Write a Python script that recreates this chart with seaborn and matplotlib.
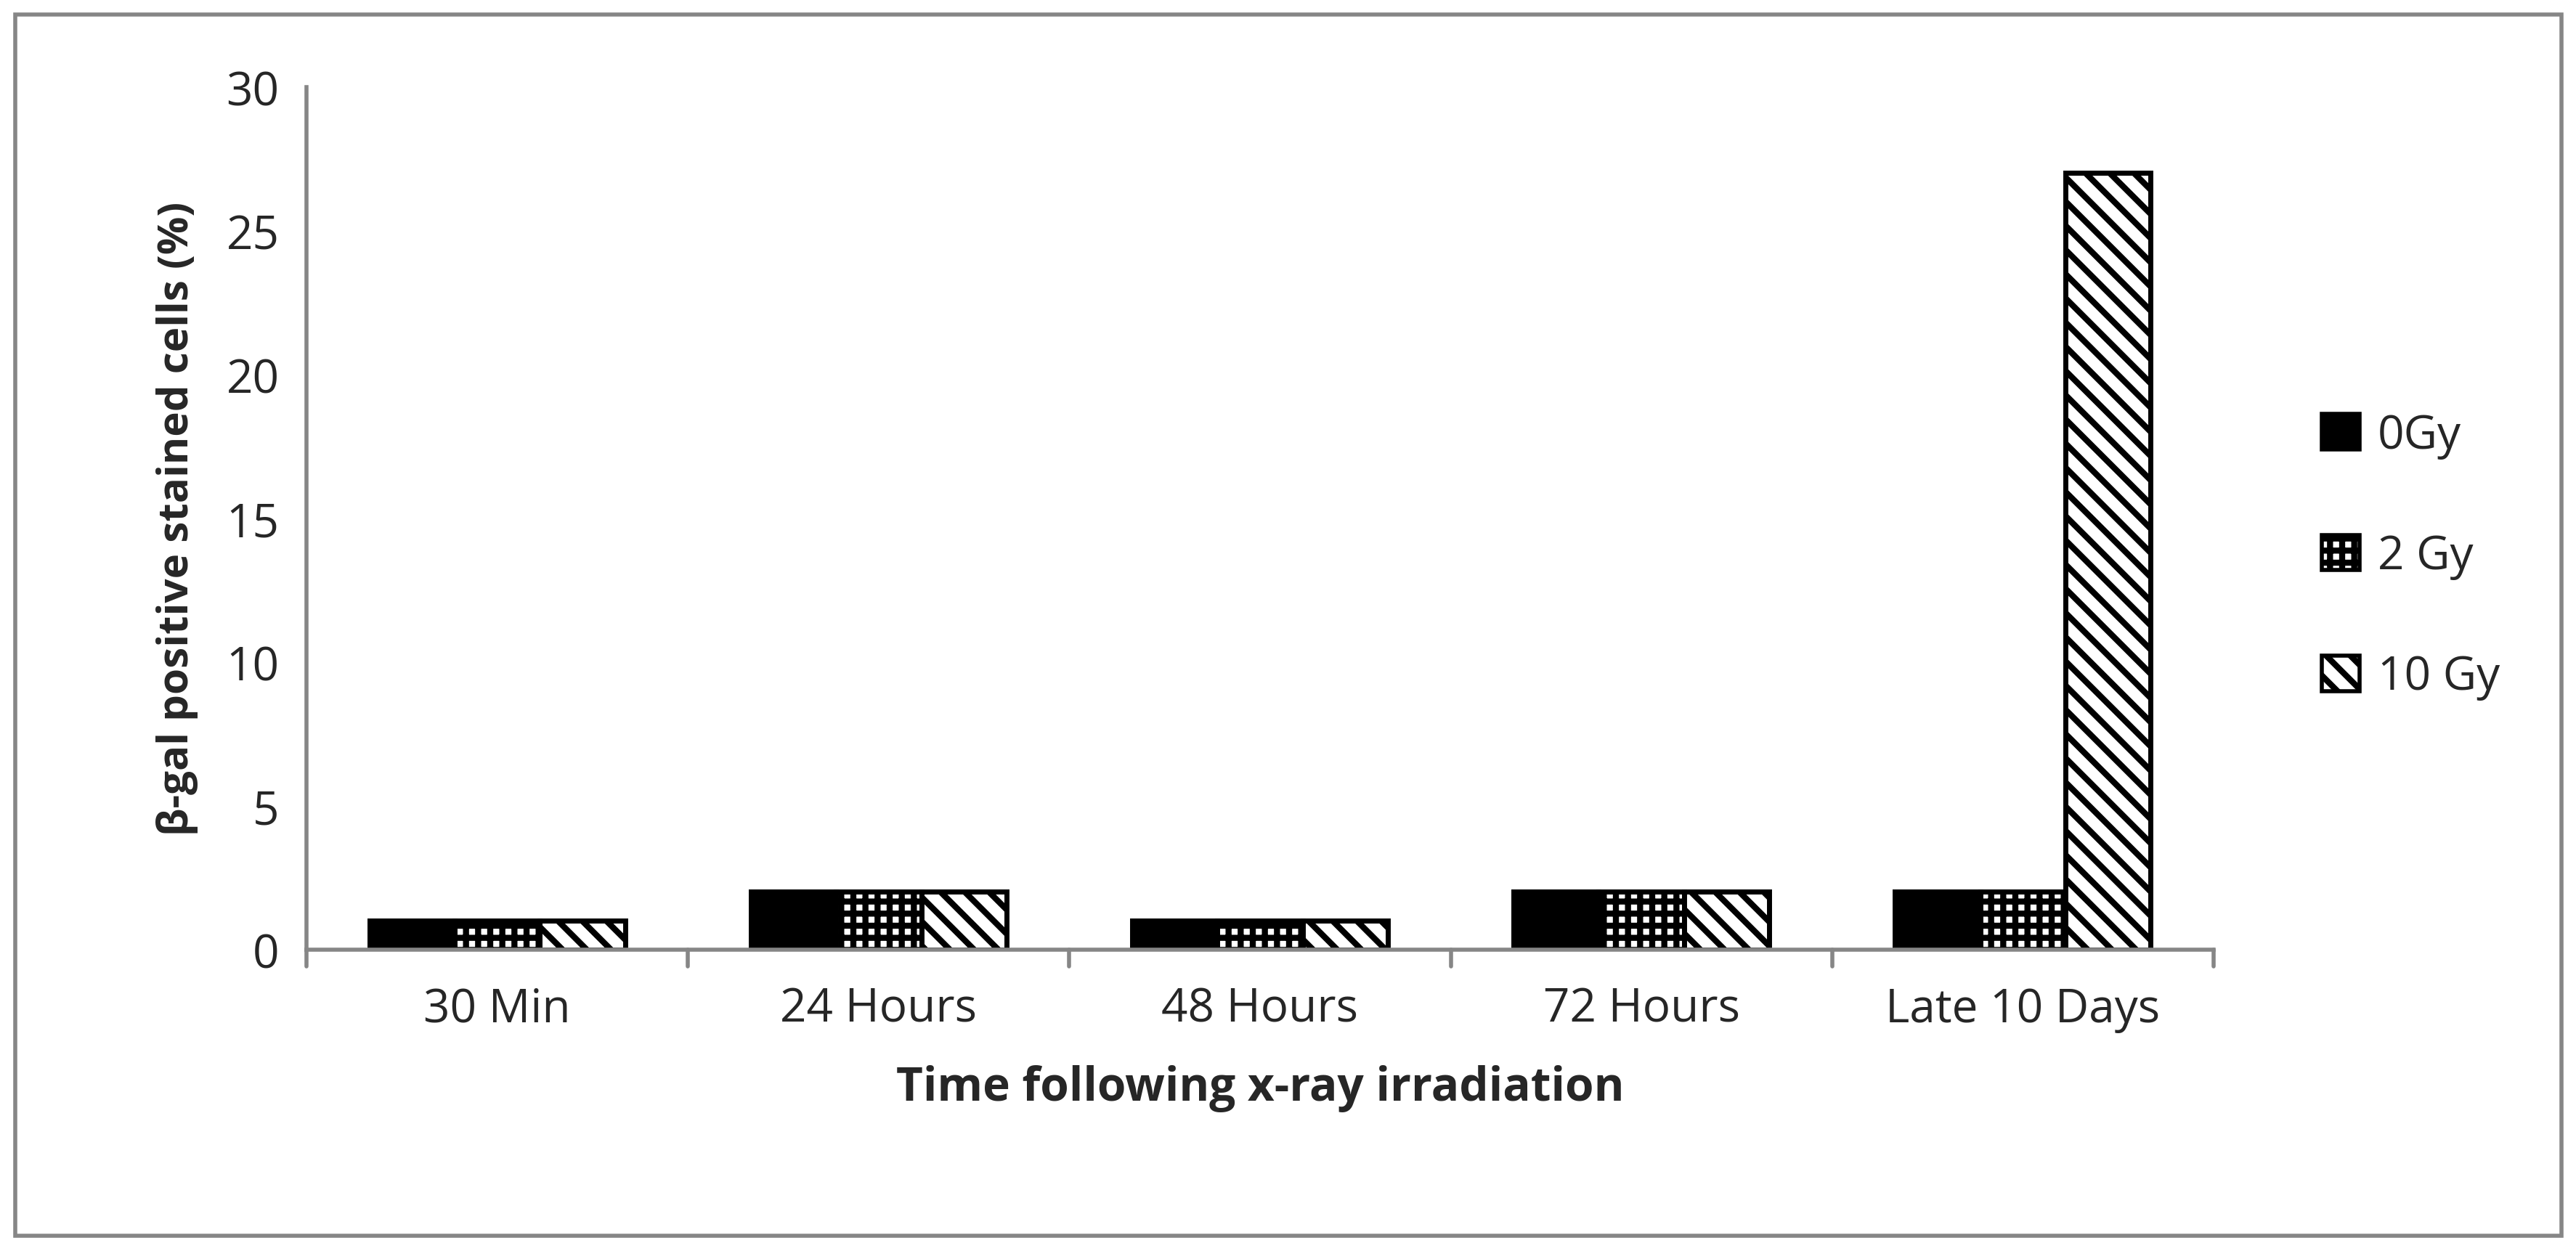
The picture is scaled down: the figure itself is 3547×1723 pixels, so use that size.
"""
beta-gal staining after x-ray irradiation, grouped bar chart.
"""

import matplotlib.pyplot as plt
import matplotlib.patches as mpatches
import pandas as pd
import seaborn as sns

sns.set_style("white")
plt.rcParams["font.family"] = ["Open Sans", "DejaVu Sans"]
plt.rcParams["hatch.linewidth"] = 3.0

# Data
time_points = ["30 Min", "24 Hours", "48 Hours", "72 Hours", "Late 10 Days"]
doses = ["0Gy", "2 Gy", "10 Gy"]
dose_0 = [1, 2, 1, 2, 2]
dose_2 = [1, 2, 1, 2, 2]
dose_10 = [1, 2, 1, 2, 27]

df = pd.DataFrame({
    "time": time_points * 3,
    "dose": [doses[0]] * 5 + [doses[1]] * 5 + [doses[2]] * 5,
    "value": dose_0 + dose_2 + dose_10,
})

hatches = {"0Gy": "", "2 Gy": "++", "10 Gy": "\\\\"}
faces = {"0Gy": "black", "2 Gy": "white", "10 Gy": "white"}

fig = plt.figure(figsize=(17.74, 8.62), dpi=200)
ax = fig.add_axes([0.119, 0.241, 0.74, 0.689])

sns.barplot(data=df, x="time", y="value", hue="dose", ax=ax,
            order=time_points, hue_order=doses, width=0.67,
            palette=["black", "white", "white"], legend=False,
            edgecolor="black", linewidth=2.5)

for i, dose in enumerate(doses):
    for patch in ax.containers[i]:
        patch.set_hatch(hatches[dose])
        patch.set_facecolor(faces[dose])

ax.set_ylim(0, 30)
ax.set_yticks(range(0, 31, 5))
ax.set_xlim(-0.5, 4.5)
ax.tick_params(axis="both", labelsize=23, length=0)
ax.tick_params(axis="x", pad=18)
for s in ["top", "right"]:
    ax.spines[s].set_visible(False)
for s in ["left", "bottom"]:
    ax.spines[s].set_color("#868686")
    ax.spines[s].set_linewidth(2)

# tick marks like the original
ax.tick_params(axis="y", length=10, width=2, color="#868686", direction="out")
for xb in [-0.5, 0.5, 1.5, 2.5, 3.5, 4.5]:
    ax.plot([xb, xb], [0, -0.6], color="#868686", lw=2, clip_on=False)

ax.set_xlabel("Time following x-ray irradiation", fontsize=23, fontweight="bold", labelpad=16)
ax.set_ylabel("β-gal positive stained cells (%)", fontsize=21, fontweight="bold", labelpad=14)

handles = [mpatches.Patch(facecolor=faces[d], edgecolor="black", hatch=hatches[d], lw=2, label=d)
           for d in doses]
fig.legend(handles=handles, loc="center left", bbox_to_anchor=(0.885, 0.555), frameon=False,
           fontsize=23, handlelength=0.8, handleheight=0.8, labelspacing=1.6, handletextpad=0.4)

border = mpatches.Rectangle((0.006, 0.012), 0.988, 0.976, transform=fig.transFigure,
                            fill=False, edgecolor="#868686", lw=2)
fig.patches.append(border)

fig.savefig("out.png", dpi=200, facecolor="white")
plt.close()
